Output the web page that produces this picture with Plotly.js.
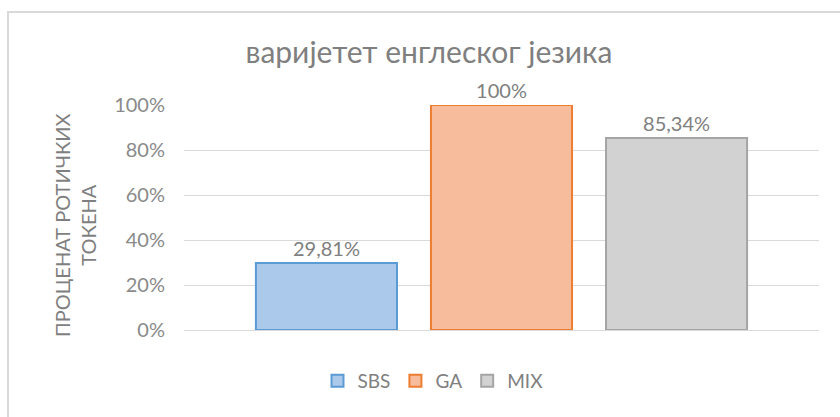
<!DOCTYPE html>
<html>
<head>
<meta charset="utf-8">
<script src="https://cdn.plot.ly/plotly-3.0.1.min.js"></script>
<style>html,body{margin:0;padding:0;background:#fff;}#chart{width:840px;height:417px;}</style>
</head>
<body>
<div id="chart"></div>
<script>
const seriesNames = ["SBS", "GA", "MIX"];
const seriesValues = [29.81, 100, 85.34];
const valueLabels = ["29,81%", "100%", "85,34%"];
const categoryLabel = [""];
const tickValues = [0, 20, 40, 60, 80, 100];
const tickLabels = ["0%", "20%", "40%", "60%", "80%", "100%"];
const fillColors = ["#abc9ea", "#f6bc9b", "#d2d2d2"];
const lineColors = ["#5b9bd5", "#ed7d31", "#a5a5a5"];

const FONT = "Lato, 'Open Sans', sans-serif";
const GREY = "#808080";

const traces = seriesNames.map((name, i) => ({
  type: "bar",
  name: name,
  x: categoryLabel,
  y: [seriesValues[i]],
  text: [valueLabels[i]],
  textposition: "outside",
  cliponaxis: false,
  textfont: {family: FONT, size: 20, color: GREY},
  marker: {color: fillColors[i], line: {color: lineColors[i], width: 2}},
  hoverinfo: "none"
}));

const layout = {
  width: 840, height: 417,
  margin: {l: 184, r: 21, t: 105, b: 87},
  paper_bgcolor: "#ffffff",
  plot_bgcolor: "#ffffff",
  font: {family: FONT, color: GREY},
  barmode: "group",
  bargap: 0.173,
  bargroupgap: 0.194,
  title: {
    text: "варијетет енглеског језика",
    font: {family: FONT, size: 30, color: "#7f7f7f"},
    x: 429/840, xanchor: "center",
    y: 1 - 52/417, yanchor: "middle"
  },
  xaxis: {
    range: [-0.5, 0.5],
    showticklabels: false,
    showgrid: false,
    zeroline: false,
    showline: false,
    fixedrange: true
  },
  yaxis: {
    range: [0, 100],
    tickvals: tickValues,
    ticktext: tickLabels,
    tickfont: {family: FONT, size: 20, color: "#8a8a8a"},
    ticks: "",
    ticklabelstandoff: 18,
    showgrid: true,
    gridcolor: "#d9d9d9",
    gridwidth: 1,
    zeroline: true,
    zerolinecolor: "#d9d9d9",
    zerolinewidth: 1,
    showline: false,
    fixedrange: true
  },
  showlegend: true,
  legend: {
    orientation: "h",
    xref: "container", yref: "container",
    x: 433/840, xanchor: "center",
    y: 1 - 381/417, yanchor: "middle",
    font: {family: FONT, size: 19, color: GREY},
    itemwidth: 30,
    tracegroupgap: 0,
    traceorder: "normal"
  },
  annotations: [{
    text: "ПРОЦЕНАТ РОТИЧКИХ<br>ТОКЕНА",
    xref: "paper", yref: "paper",
    x: (75 - 184) / 635, y: (330 - 225) / 225,
    xanchor: "center", yanchor: "middle",
    textangle: -90,
    showarrow: false,
    font: {family: FONT, size: 20, color: "#7f7f7f"}
  }],
  shapes: [{
    type: "rect", xref: "paper", yref: "paper",
    x0: (8 - 184) / 635, x1: (850 - 184) / 635,
    y0: (330 - 430) / 225, y1: (330 - 12) / 225,
    line: {color: "#d9d9d9", width: 2},
    fillcolor: "rgba(0,0,0,0)",
    layer: "below"
  }]
};

Plotly.newPlot("chart", traces, layout, {displayModeBar: false, staticPlot: true});
</script>
</body>
</html>
